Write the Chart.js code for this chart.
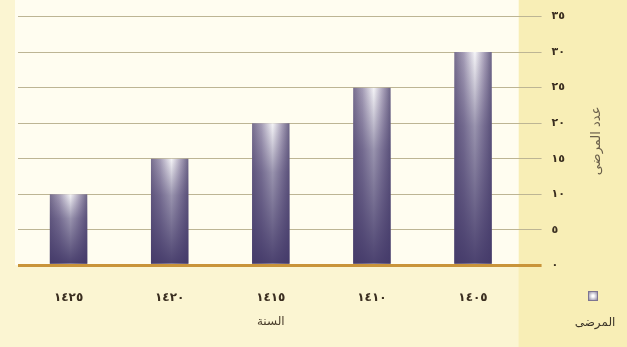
<!DOCTYPE html>
<html lang="ar">
<head>
  <meta charset="UTF-8" />
  <title>عدد المرضى</title>
  <script src="https://cdn.jsdelivr.net/npm/chart.js"></script>
  <style>
    html, body { margin: 0; padding: 0; background: #faf3c9; }
    #wrap { width: 627px; height: 347px; }
  </style>
</head>
<body>
  <div id="wrap"><canvas id="myChart" width="627" height="347"></canvas></div>

  <script>
    // data
    const years = ['١٤٢٥', '١٤٢٠', '١٤١٥', '١٤١٠', '١٤٠٥'];
    const patients = [10, 15, 20, 25, 30];
    const yTickLabels = ['٠', '٥', '١٠', '١٥', '٢٠', '٢٥', '٣٠', '٣٥'];
    const seriesName = 'المرضى';
    const xTitle = 'السنة';
    const yTitle = 'عدد المرضى';

    const FONT = "'DejaVu Sans', sans-serif";
    const BAR_FRAC = 0.37;

    // horizontal "cylinder" shading for each bar
    function barFill(ctx) {
      const chart = ctx.chart;
      const x = chart.scales.x;
      if (!chart.chartArea || !x || ctx.dataIndex === undefined) return '#6a6288';
      const cx = x.getPixelForValue(ctx.dataIndex);
      const w = (chart.chartArea.right - chart.chartArea.left) / years.length * BAR_FRAC;
      const g = chart.ctx.createLinearGradient(cx - w / 2, 0, cx + w / 2, 0);
      g.addColorStop(0, '#7a7190');
      g.addColorStop(0.25, '#aaa2ba');
      g.addColorStop(0.55, '#ffffff');
      g.addColorStop(0.8, '#aea6bd');
      g.addColorStop(1, '#6f6788');
      return g;
    }

    const backgroundPlugin = {
      id: 'bg',
      beforeDraw(chart) {
        const c = chart.ctx, a = chart.chartArea;
        c.save();
        c.fillStyle = '#fbf5d2';
        c.fillRect(0, 0, chart.width, chart.height);
        c.fillStyle = '#f8eeb6';
        c.fillRect(a.right - 5, 0, chart.width - a.right + 5, chart.height);
        c.fillStyle = '#fffdf0';
        c.fillRect(a.left - 3, 0, a.right - a.left - 2, a.bottom);
        c.restore();
      }
    };

    // darkening toward the base of each bar
    const shadePlugin = {
      id: 'shade',
      afterDatasetsDraw(chart) {
        const c = chart.ctx;
        chart.getDatasetMeta(0).data.forEach(bar => {
          const p = bar.getProps(['x', 'y', 'base', 'width'], true);
          const g = c.createLinearGradient(0, p.y, 0, p.base);
          g.addColorStop(0, 'rgba(70,60,108,0.05)');
          g.addColorStop(0.35, 'rgba(70,60,108,0.55)');
          g.addColorStop(1, 'rgba(66,56,104,0.95)');
          c.save();
          c.fillStyle = g;
          c.fillRect(p.x - p.width / 2, p.y, p.width, p.base - p.y);
          c.restore();
        });
      }
    };

    // y title (reads bottom-up) and the small legend under it
    const sidePlugin = {
      id: 'side',
      afterDraw(chart) {
        const c = chart.ctx, a = chart.chartArea;
        c.save();
        c.translate(597, (a.top + a.bottom) / 2);
        c.rotate(-Math.PI / 2);
        c.fillStyle = '#6a5f4a';
        c.font = '13px ' + FONT;
        c.textAlign = 'center';
        c.textBaseline = 'middle';
        c.fillText(yTitle, 0, 0);
        c.restore();

        c.save();
        const g = c.createRadialGradient(593, 296, 1, 593, 296, 7);
        g.addColorStop(0, '#ffffff');
        g.addColorStop(1, '#6f6788');
        c.fillStyle = g;
        c.fillRect(588, 291, 10, 10);
        c.strokeStyle = '#7d7592';
        c.lineWidth = 1;
        c.strokeRect(588.5, 291.5, 9, 9);
        c.fillStyle = '#3b3428';
        c.font = '12px ' + FONT;
        c.textAlign = 'center';
        c.textBaseline = 'middle';
        c.fillText(chart.data.datasets[0].label, 595, 323);
        c.restore();
      }
    };

    new Chart(document.getElementById('myChart').getContext('2d'), {
      type: 'bar',
      data: {
        labels: years,
        datasets: [{
          label: seriesName,
          data: patients,
          backgroundColor: barFill,
          borderWidth: 0,
          categoryPercentage: 1,
          barPercentage: BAR_FRAC
        }]
      },
      options: {
        responsive: false,
        animation: false,
        layout: { padding: { left: 18, top: -3, right: 52, bottom: 18 } },
        plugins: {
          legend: { display: false },
          tooltip: { enabled: false }
        },
        scales: {
          x: {
            grid: { display: false },
            border: { display: false },
            ticks: {
              color: '#3a2e20',
              font: { family: FONT, size: 12, weight: 'bold' },
              padding: 17
            },
            title: {
              display: true,
              text: xTitle,
              color: '#4a3e2c',
              font: { family: FONT, size: 12 },
              padding: { top: -7, bottom: 0 }
            }
          },
          y: {
            position: 'right',
            min: 0,
            max: 35,
            border: { display: false },
            grid: {
              color: c => c.tick && c.tick.value === 0 ? '#c9943a' : '#bdb594',
              lineWidth: c => c.tick && c.tick.value === 0 ? 3 : 1,
              tickLength: 18
            },
            ticks: {
              stepSize: 5,
              color: '#3a2e20',
              font: { family: FONT, size: 11, weight: 'bold' },
              padding: 10,
              callback: v => yTickLabels[v / 5]
            }
          }
        }
      },
      plugins: [backgroundPlugin, shadePlugin, sidePlugin]
    });
  </script>
</body>
</html>
